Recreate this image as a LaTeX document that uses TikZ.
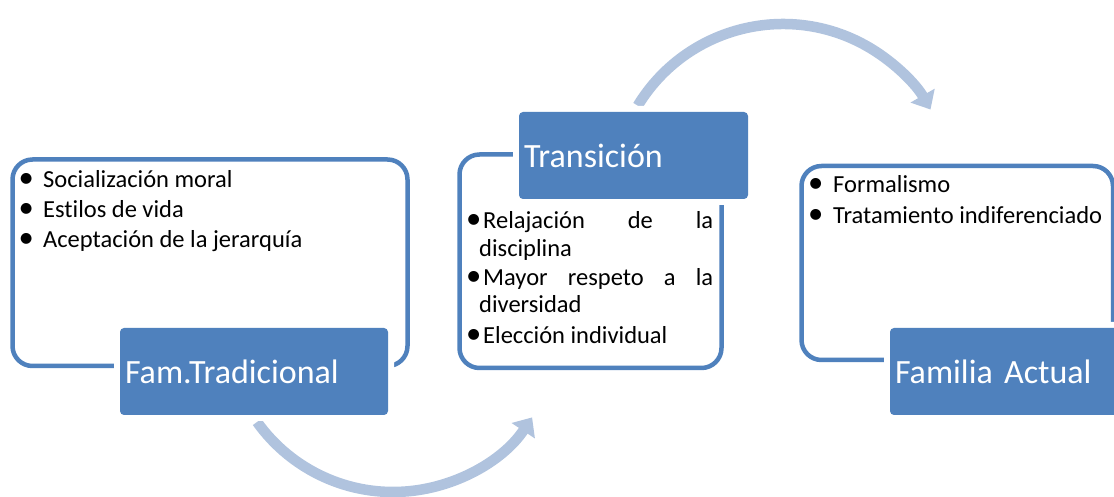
\documentclass[tikz,border=0pt]{standalone}
\usepackage{fontspec}
\setmainfont{Carlito}[Ligatures=NoCommon]
\usetikzlibrary{arrows.meta}
\definecolor{smblue}{RGB}{79,129,189}
\definecolor{smarrow}{RGB}{176,195,222}
\tikzstyle{panel} = [draw=smblue, line width=4.5pt, fill=white, rounded corners=20pt, inner sep=0pt]
\tikzstyle{tag} = [fill=smblue, rounded corners=4pt, preaction={draw=white, line width=12pt}, text=white, font=\fontsize{34}{40}\selectfont, align=left, inner xsep=5pt, inner ysep=0pt]
\tikzstyle{itm} = [font=\fontsize{24.5}{28}\selectfont, inner sep=0pt, anchor=base west]
\tikzstyle{flow} = [draw=smarrow, line width=10.5pt, -{Triangle[length=16pt,width=27pt]}]
\newcommand{\blt}[1]{\makebox[#1][c]{\scalebox{1.25}{\textbullet}}}

\begin{document}
\begin{tikzpicture}[x=1pt,y=1pt]
\useasboundingbox (0,0) rectangle (1114,497);
\clip (0,0) rectangle (1114,497);

% curved arrows
\coordinate (lowc) at (393,172);
\coordinate (upc) at (783,303);
\draw[flow] (lowc) ++(215.5:167) arc[start angle=215.5, end angle=326.4, radius=167];
\draw[flow] (upc) ++(148.7:170) arc[start angle=148.7, end angle=29.8, radius=170];

% panels
\node[panel, minimum width=395pt, minimum height=206.5pt] (trad) at (210,234.25) {};
\node[panel, minimum width=262pt, minimum height=213.5pt] (trans) at (590.5,235.75) {};
\node[panel, minimum width=311.5pt, minimum height=194pt] (act) at (957.25,234) {};

% tags
\node[tag, minimum width=268pt, minimum height=87pt, text width=258pt] (tradtag) at (254,125.5) {Fam.Tradicional};
\node[tag, minimum width=229pt, minimum height=87pt, text width=219pt] (transtag) at (633.5,341.5) {Transición};
\node[tag, minimum width=229pt, minimum height=87pt, text width=219pt] (acttag) at (1004.5,125.5) {Familia Actual};

% items
\node[itm] (t1) at (9,309) {\blt{34pt}Socialización moral};
\node[itm] (t2) at (9,279) {\blt{34pt}Estilos de vida};
\node[itm] (t3) at (9,249) {\blt{34pt}Aceptación de la jerarquía};

\node[itm] (r1) at (464,268) {\blt{19pt}\makebox[230pt][s]{Relajación de la}};
\node[itm] (r2) at (479,240) {disciplina};
\node[itm] (r3) at (464,211) {\blt{19pt}\makebox[230pt][s]{Mayor respeto a la}};
\node[itm] (r4) at (479,184) {diversidad};
\node[itm] (r5) at (464,153) {\blt{19pt}Elección individual};

\node[itm] (f1) at (798,304) {\blt{35pt}Formalismo};
\node[itm] (f2) at (798,273) {\blt{35pt}Tratamiento indiferenciado};
\end{tikzpicture}
\end{document}
